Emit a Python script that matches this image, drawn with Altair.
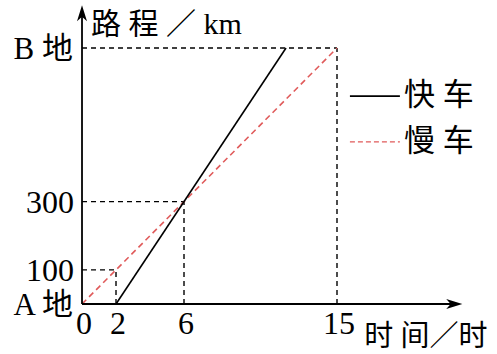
import altair as alt
import pandas as pd

# ---- data ----
x_ticks = [0, 2, 6, 15]
x_tick_labels = ["0", "2", "6", "15"]
y_ticks = [100, 300]
y_tick_labels = ["100", "300"]
b_dist = 750                      # distance A -> B (km)
fast_t = [2, 12]                  # 快车 (solid)
fast_d = [0, 750]
slow_t = [0, 15]                  # 慢车 (dashed red)
slow_d = [0, 750]
guide_t = [2, 6, 15]              # dashed helper lines
guide_d = [100, 300, 750]
series_names = ["快车", "慢车"]

x_end = 21.9      # end of x axis (arrow)
y_end = 852       # end of y axis (arrow)

FONT = "Liberation Serif, Noto Sans CJK SC"
RED = "#e05a5a"

xs = alt.Scale(domain=[-4.824, 24.412], nice=False, zero=False)
ys = alt.Scale(domain=[-146.5, 890.7], nice=False, zero=False)

def X(f="t"):
    return alt.X(f"{f}:Q", scale=xs, axis=None)

def Y(f="d"):
    return alt.Y(f"{f}:Q", scale=ys, axis=None)

# axes
axes_df = pd.DataFrame({"t": [0, 0], "t2": [x_end, 0], "d": [0, 0], "d2": [0, y_end]})
axes = alt.Chart(axes_df).mark_rule(color="black", strokeWidth=1.8).encode(
    x=X(), x2="t2:Q", y=Y(), y2="d2:Q")

arrow_path = "M1,0L-1,-0.62L-0.45,0L-1,0.62Z"
arr_df = pd.DataFrame({"t": [x_end, 0], "d": [0, y_end], "ang": [0, 270]})
arrows = alt.Chart(arr_df).mark_point(shape=arrow_path, filled=True, color="black",
                                      opacity=1, size=260).encode(
    x=X(), y=Y(), angle=alt.Angle("ang:Q", scale=None))

# dashed helper lines
h_df = pd.DataFrame({"t": [0] * 3, "t2": guide_t, "d": guide_d, "d2": guide_d})
v_df = pd.DataFrame({"t": guide_t, "t2": guide_t, "d": [0] * 3, "d2": guide_d})
guides = alt.layer(
    alt.Chart(h_df).mark_rule(color="black", strokeWidth=1.4, strokeDash=[5, 4]).encode(
        x=X(), x2="t2:Q", y=Y(), y2="d2:Q"),
    alt.Chart(v_df).mark_rule(color="black", strokeWidth=1.4, strokeDash=[5, 4]).encode(
        x=X(), x2="t2:Q", y=Y(), y2="d2:Q"),
)

fast = alt.Chart(pd.DataFrame({"t": fast_t, "d": fast_d})).mark_line(
    color="black", strokeWidth=1.6).encode(x=X(), y=Y())
slow = alt.Chart(pd.DataFrame({"t": slow_t, "d": slow_d})).mark_line(
    color=RED, strokeWidth=1.6, strokeDash=[6, 4]).encode(x=X(), y=Y())

# tick labels
xl_df = pd.DataFrame({"t": x_ticks, "d": [0] * 4, "lab": x_tick_labels})
xlab = alt.Chart(xl_df).mark_text(font=FONT, fontSize=32, baseline="middle",
                                  align="center", dy=20, dx=2).encode(
    x=X(), y=Y(), text="lab:N")
yl_df = pd.DataFrame({"t": [0, 0], "d": y_ticks, "lab": y_tick_labels})
ylab = alt.Chart(yl_df).mark_text(font=FONT, fontSize=32, baseline="middle",
                                  align="right", dx=-8, dy=1).encode(
    x=X(), y=Y(), text="lab:N")

ab_df = pd.DataFrame({"t": [0, 0], "d": [0, b_dist], "lab": ["A 地", "B 地"]})
ablab = alt.Chart(ab_df).mark_text(font=FONT, fontSize=31, baseline="middle",
                                   align="right", dx=-9, dy=2).encode(
    x=X(), y=Y(), text="lab:N")

# axis titles
ytitle = alt.Chart(pd.DataFrame({"t": [0], "d": [y_end], "lab": ["路 程 ／ km"]})).mark_text(
    font=FONT, fontSize=30, baseline="middle", align="left", dx=9, dy=12).encode(
    x=X(), y=Y(), text="lab:N")
xtitle = alt.Chart(pd.DataFrame({"t": [x_end], "d": [0], "lab": ["时 间／时"]})).mark_text(
    font=FONT, fontSize=29, baseline="middle", align="left", dx=-90, dy=33).encode(
    x=X(), y=Y(), text="lab:N")

# legend
leg_df = pd.DataFrame({"name": series_names, "t": [15.76, 15.76], "t2": [18.7, 18.7],
                       "d": [609, 475], "lab": ["快 车", "慢 车"]})
leg_fast = alt.Chart(leg_df.iloc[[0]]).mark_rule(color="black", strokeWidth=1.6).encode(
    x=X(), x2="t2:Q", y=Y())
leg_slow = alt.Chart(leg_df.iloc[[1]]).mark_rule(color=RED, strokeWidth=1.4,
                                                 strokeDash=[5, 3]).encode(
    x=X(), x2="t2:Q", y=Y())
leg_text = alt.Chart(leg_df).mark_text(font=FONT, fontSize=31, baseline="middle",
                                       align="left", dx=4).encode(
    x=X("t2"), y=Y(), text="lab:N")

chart = alt.layer(guides, slow, fast, axes, arrows, xlab, ylab, ablab, ytitle, xtitle,
                  leg_fast, leg_slow, leg_text).properties(
    width=497, height=354, autosize=alt.AutoSizeParams(type="none"), padding=0,
    background="white",
).configure_view(stroke=None)

chart.save("out.html", embed_options={"renderer": "svg", "actions": False})
